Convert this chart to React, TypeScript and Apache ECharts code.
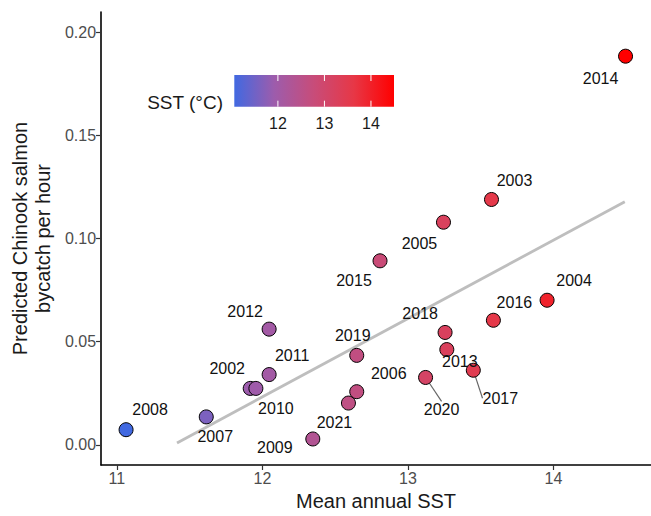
import React, { useEffect, useRef } from "react";
import * as echarts from "echarts";

const years = ["2002","2003","2004","2005","2006","2007","2008","2009","2010","2011","2012","2013","2014","2015","2016","2017","2018","2019","2020","2021"];
const sst = [11.916,13.574,13.956,13.244,12.648,11.614,11.063,12.346,11.955,12.046,12.046,13.267,14.495,12.808,13.587,13.449,13.255,12.648,13.121,12.591];
const bycatch = [0.0274,0.1189,0.0701,0.1079,0.0258,0.0136,0.0074,0.0029,0.0274,0.0341,0.0561,0.0462,0.1883,0.0892,0.0604,0.0362,0.0545,0.0434,0.0327,0.0203];
const trendX = [11.413, 14.49];
const trendY = [0.001, 0.1178];
const xTicks = [11, 12, 13, 14];
const yTicks = [0, 0.05, 0.1, 0.15, 0.2];
const legendTicks = [12, 13, 14];
const gradientColors = ["#4169E1", "#9D5CAC", "#C84C79", "#E73746", "#FF0000"];

// label displacement (px) per year, like ggrepel placement
const labelShift: number[][] = [
  [-23,-20],[23,-19],[27,-20],[-24,21],[32,-18],[9,20],[24,-20],[-38,9],[20,20],[23,-19],
  [-24,-18],[13,12],[-25,22],[-26,20],[21,-18],[27,28],[-25,-19],[-4,-20],[16,32],[-14,19]
];
const segmentYears = ["2017", "2020"];

const FONT = "'Liberation Sans', Arial, Helvetica, sans-serif";

export default function App() {
  const ref = useRef<HTMLDivElement>(null);
  useEffect(() => {
    if (!ref.current) return;
    const chart = echarts.init(ref.current, null, { renderer: "svg" });
    const cMin = Math.min(...sst);
    const cMax = Math.max(...sst);
    const barX = 234.3, barY = 75, barW = 159.7, barH = 31.7;
    const tickX = (v: number) => barX + ((v - cMin) / (cMax - cMin)) * barW;

    const graphics: any[] = [
      {
        type: "rect",
        shape: { x: barX, y: barY, width: barW, height: barH },
        style: {
          fill: new echarts.graphic.LinearGradient(0, 0, 1, 0,
            gradientColors.map((c, i) => ({ offset: i / (gradientColors.length - 1), color: c }))),
        },
        z: 10,
      },
      {
        type: "text",
        x: 223, y: 102,
        style: { text: "SST (°C)", font: `19px ${FONT}`, fill: "#1a1a1a", align: "right", verticalAlign: "middle" },
        z: 10,
      },
    ];
    legendTicks.forEach((t) => {
      const x = tickX(t);
      graphics.push({ type: "line", shape: { x1: x, y1: barY, x2: x, y2: barY + 6 }, style: { stroke: "#ffffff", lineWidth: 1 }, z: 11 });
      graphics.push({ type: "line", shape: { x1: x, y1: barY + barH - 6, x2: x, y2: barY + barH }, style: { stroke: "#ffffff", lineWidth: 1 }, z: 11 });
      graphics.push({ type: "text", x, y: 123, style: { text: String(t), font: `16px ${FONT}`, fill: "#1a1a1a", align: "center", verticalAlign: "middle" }, z: 11 });
    });

    chart.setOption({
      animation: false,
      grid: { left: 100.7, top: 12, width: 554, height: 459, containLabel: false },
      xAxis: {
        type: "value",
        min: 10.891,
        max: 14.67,
        name: "Mean annual SST",
        nameLocation: "middle",
        nameGap: 26,
        nameTextStyle: { fontFamily: FONT, fontSize: 20, color: "#1a1a1a" },
        axisLine: { show: true, onZero: false, lineStyle: { color: "#000", width: 1.6 } },
        axisTick: { show: true, length: 5, customValues: xTicks, lineStyle: { color: "#333", width: 1.2 } },
        axisLabel: { customValues: xTicks, fontFamily: FONT, fontSize: 16, color: "#4d4d4d", margin: 5, formatter: (v: number) => String(v) },
        splitLine: { show: false },
      },
      yAxis: {
        type: "value",
        min: -0.0097,
        max: 0.2097,
        name: "Predicted Chinook salmon\nbycatch per hour",
        nameLocation: "middle",
        nameGap: 45,
        nameRotate: 90,
        nameTextStyle: { fontFamily: FONT, fontSize: 20, lineHeight: 23, color: "#1a1a1a", align: "center" },
        axisLine: { show: true, onZero: false, lineStyle: { color: "#000", width: 1.6 } },
        axisTick: { show: true, length: 5, customValues: yTicks, lineStyle: { color: "#333", width: 1.2 } },
        axisLabel: { customValues: yTicks, fontFamily: FONT, fontSize: 16, color: "#4d4d4d", margin: 5, formatter: (v: number) => v.toFixed(2) },
        splitLine: { show: false },
      },
      visualMap: {
        show: false,
        type: "continuous",
        min: cMin,
        max: cMax,
        dimension: 0,
        seriesIndex: 1,
        inRange: { color: gradientColors },
      },
      series: [
        {
          type: "line",
          data: trendX.map((x, i) => [x, trendY[i]]),
          symbol: "none",
          lineStyle: { color: "#bebebe", width: 2.8 },
          z: 1,
          silent: true,
        },
        {
          type: "scatter",
          symbolSize: 14,
          itemStyle: { borderColor: "#000", borderWidth: 1, opacity: 1 },
          data: years.map((y, i) => ({
            value: [sst[i], bycatch[i]],
            name: y,
            labelLine: { show: segmentYears.includes(y) },
          })),
          label: {
            show: true,
            position: "inside",
            formatter: (p: any) => p.name,
            fontFamily: FONT,
            fontSize: 16,
            color: "#111",
          },
          labelLine: { show: false, lineStyle: { color: "#666", width: 1.2 } },
          labelLayout: (p: any) => ({ dx: labelShift[p.dataIndex][0], dy: labelShift[p.dataIndex][1] }),
          z: 3,
        },
      ],
      graphic: graphics,
    });
    return () => chart.dispose();
  }, []);
  return <div ref={ref} style={{ position: "absolute", left: 0, top: 0, width: 651, height: 516 }} />;
}
